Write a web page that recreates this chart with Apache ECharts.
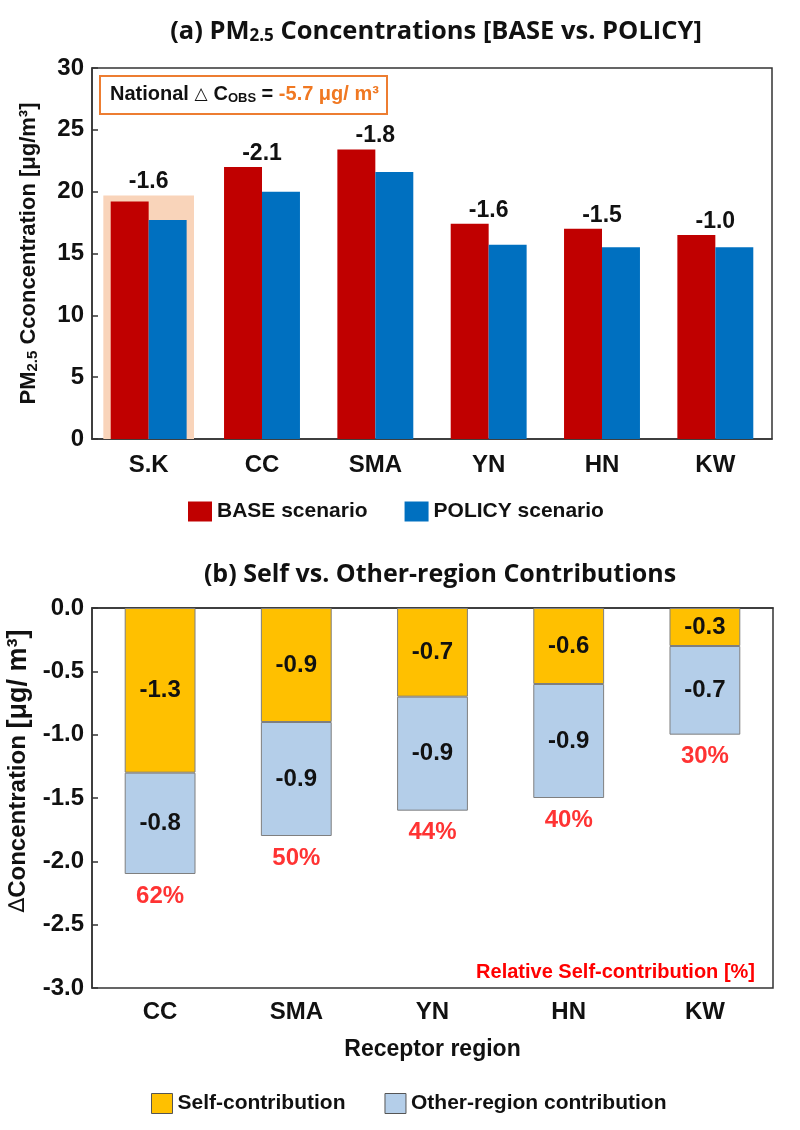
<!DOCTYPE html>
<html>
<head>
<meta charset="utf-8">
<script src="https://cdn.jsdelivr.net/npm/echarts@6/dist/echarts.min.js"></script>
<style>
  html, body { margin: 0; padding: 0; background: #fff; }
  #chart { width: 800px; height: 1130px; }
</style>
</head>
<body>
<div id="chart"></div>
<script>
  // (a) PM2.5 concentrations
  const regionsA = ['S.K', 'CC', 'SMA', 'YN', 'HN', 'KW'];
  const baseValues = [19.2, 22.0, 23.4, 17.4, 17.0, 16.5];
  const policyValues = [17.7, 20.0, 21.6, 15.7, 15.5, 15.5];
  const diffLabels = ['-1.6', '-2.1', '-1.8', '-1.6', '-1.5', '-1.0'];
  const highlightValues = [19.7, '-', '-', '-', '-', '-'];
  const ticksA = [0, 5, 10, 15, 20, 25, 30];

  // (b) self vs other-region
  const regionsB = ['CC', 'SMA', 'YN', 'HN', 'KW'];
  const selfValues = [-1.3, -0.9, -0.7, -0.6, -0.3];
  const otherValues = [-0.8, -0.9, -0.9, -0.9, -0.7];
  const selfShare = [62, 50, 44, 40, 30];
  const ticksB = [-3.0, -2.5, -2.0, -1.5, -1.0, -0.5, 0.0];

  const FONT = "'Liberation Sans', Arial, sans-serif";
  const TITLE_FONT = "'Open Sans', 'Noto Sans', sans-serif";

  // label anchor: top of the tallest thing in each group
  const labelAnchor = baseValues.map((v, i) =>
    highlightValues[i] === '-' ? v : Math.max(v, highlightValues[i]));
  const totals = selfValues.map((v, i) => +(v + otherValues[i]).toFixed(2));

  const chart = echarts.init(document.getElementById('chart'));

  const axisLine = { show: true, lineStyle: { color: '#333', width: 1.5 } };

  const option = {
    backgroundColor: '#fff',
    animation: false,
    title: [{
      text: '{t|(a) PM}{s|2.5}{t| Concentrations [BASE vs. POLICY]}',
      left: 431, top: 13, textAlign: 'center',
      textStyle: {
        rich: {
          t: { fontFamily: TITLE_FONT, fontSize: 25.5, fontWeight: 'bold', color: '#111' },
          s: { fontFamily: TITLE_FONT, fontSize: 17, fontWeight: 'bold', color: '#111', padding: [10, 0, 0, 0] }
        }
      }
    }, {
      text: '(b) Self vs. Other-region Contributions',
      left: 435, top: 557, textAlign: 'center',
      textStyle: { fontFamily: TITLE_FONT, fontSize: 25, fontWeight: 'bold', color: '#111' }
    }, {
      text: '{n|National }{d|△ }{n|C}{s|OBS}{n| = }{o|-5.7 μg/ m³}',
      left: 100, top: 75,
      borderColor: '#ED7D31', borderWidth: 2,
      padding: [9, 8, 9, 10],
      backgroundColor: '#fff',
      textStyle: {
        rich: {
          n: { fontFamily: FONT, fontSize: 20, fontWeight: 'bold', color: '#111' },
          d: { fontFamily: "'DejaVu Sans', sans-serif", fontSize: 17, color: '#111' },
          s: { fontFamily: FONT, fontSize: 13, fontWeight: 'bold', color: '#111', padding: [8, 0, 0, 0] },
          o: { fontFamily: FONT, fontSize: 20, fontWeight: 'bold', color: '#F07822' }
        }
      }
    }, {
      text: 'Relative Self-contribution [%]',
      right: 40, top: 957,
      textStyle: { fontFamily: FONT, fontSize: 20, fontWeight: 'bold', color: '#FF0000' }
    }],
    legend: [{
      data: ['BASE scenario', 'POLICY scenario'],
      left: 183, top: 496,
      itemWidth: 24, itemHeight: 20, itemGap: 37,
      icon: 'rect',
      textStyle: { fontFamily: FONT, fontSize: 21, fontWeight: 'bold', color: '#111' }
    }, {
      data: ['Self-contribution', 'Other-region contribution'],
      left: 146, top: 1088,
      itemWidth: 21, itemHeight: 20, itemGap: 39,
      icon: 'rect',
      itemStyle: { borderColor: '#555', borderWidth: 1 },
      textStyle: { fontFamily: FONT, fontSize: 21, fontWeight: 'bold', color: '#111' }
    }],
    grid: [
      { left: 92, right: 28, top: 68, height: 371, show: true, borderColor: '#333', borderWidth: 1.5, containLabel: false, outerBoundsMode: 'none' },
      { left: 92, right: 27, top: 608, height: 380, show: true, borderColor: '#333', borderWidth: 1.5, containLabel: false, outerBoundsMode: 'none' }
    ],
    xAxis: [{
      gridIndex: 0, type: 'category', data: regionsA,
      axisLine: axisLine, axisTick: { show: false },
      axisLabel: { fontFamily: FONT, fontSize: 24, fontWeight: 'bold', color: '#111', margin: 14 }
    }, {
      gridIndex: 0, type: 'category', data: regionsA, show: false
    }, {
      gridIndex: 1, type: 'category', data: regionsB,
      axisLine: axisLine, axisTick: { show: false },
      axisLabel: { fontFamily: FONT, fontSize: 24, fontWeight: 'bold', color: '#111', margin: 12 },
      name: 'Receptor region', nameLocation: 'middle', nameGap: 50,
      nameTextStyle: { fontFamily: FONT, fontSize: 23, fontWeight: 'bold', color: '#111' }
    }],
    yAxis: [{
      gridIndex: 0, type: 'value', min: ticksA[0], max: ticksA[ticksA.length - 1], interval: 5,
      axisLine: axisLine,
      axisTick: { show: true, inside: true, length: 6, lineStyle: { color: '#333', width: 1.5 } },
      splitLine: { show: false },
      axisLabel: { fontFamily: FONT, fontSize: 24, fontWeight: 'bold', color: '#111', margin: 8 },
      name: '{a|PM}{b|2.5}{a| Cconcentration [μg/m³]}',
      nameLocation: 'middle', nameRotate: 90, nameGap: 52,
      nameTextStyle: {
        rich: {
          a: { fontFamily: FONT, fontSize: 22, fontWeight: 'bold', color: '#111' },
          b: { fontFamily: FONT, fontSize: 15, fontWeight: 'bold', color: '#111', padding: [8, 0, 0, 0] }
        }
      }
    }, {
      gridIndex: 1, type: 'value', min: ticksB[0], max: ticksB[ticksB.length - 1], interval: 0.5,
      axisLine: axisLine,
      axisTick: { show: true, inside: true, length: 6, lineStyle: { color: '#333', width: 1.5 } },
      splitLine: { show: false },
      axisLabel: {
        fontFamily: FONT, fontSize: 24, fontWeight: 'bold', color: '#111', margin: 8,
        formatter: v => v.toFixed(1)
      },
      name: '{d|∆}{a|Concentration }{u|[μg/ m³]}',
      nameLocation: 'middle', nameRotate: 90, nameGap: 52,
      nameTextStyle: {
        padding: [0, 0, 0, 54],
        rich: {
          d: { fontFamily: "'DejaVu Sans', sans-serif", fontSize: 22, color: '#111' },
          a: { fontFamily: FONT, fontSize: 24, fontWeight: 'bold', color: '#111' },
          u: { fontFamily: FONT, fontSize: 27, fontWeight: 'bold', color: '#111' }
        }
      }
    }],
    series: [{
      name: 'highlight', type: 'bar', xAxisIndex: 1, yAxisIndex: 0,
      data: highlightValues, barWidth: '80%', barGap: '-100%', z: 1,
      itemStyle: { color: '#F9D4BA' }, silent: true
    }, {
      name: 'diff', type: 'bar', xAxisIndex: 1, yAxisIndex: 0,
      data: labelAnchor, barWidth: '80%', z: 5,
      itemStyle: { color: 'rgba(0,0,0,0)' }, silent: true,
      label: {
        show: true, position: 'top', distance: 2,
        fontFamily: FONT, fontSize: 23, fontWeight: 'bold', color: '#111',
        formatter: p => diffLabels[p.dataIndex]
      }
    }, {
      name: 'BASE scenario', type: 'bar', xAxisIndex: 0, yAxisIndex: 0,
      data: baseValues, barGap: 0, barCategoryGap: '33%', z: 3,
      itemStyle: { color: '#C00000' }
    }, {
      name: 'POLICY scenario', type: 'bar', xAxisIndex: 0, yAxisIndex: 0,
      data: policyValues, z: 3,
      itemStyle: { color: '#0070C0' }
    }, {
      name: 'Self-contribution', type: 'bar', xAxisIndex: 2, yAxisIndex: 1,
      stack: 'b', data: selfValues, barWidth: '52%',
      itemStyle: { color: '#FFC000', borderColor: '#7F7F7F', borderWidth: 1 },
      label: {
        show: true, position: 'inside',
        fontFamily: FONT, fontSize: 24, fontWeight: 'bold', color: '#111',
        formatter: p => p.value.toFixed(1)
      }
    }, {
      name: 'Other-region contribution', type: 'bar', xAxisIndex: 2, yAxisIndex: 1,
      stack: 'b', data: otherValues, barWidth: '52%',
      itemStyle: { color: '#B4CEE9', borderColor: '#7F7F7F', borderWidth: 1 },
      label: {
        show: true, position: 'inside',
        fontFamily: FONT, fontSize: 24, fontWeight: 'bold', color: '#111',
        formatter: p => p.value.toFixed(1)
      }
    }, {
      name: 'share', type: 'scatter', xAxisIndex: 2, yAxisIndex: 1,
      data: totals, symbolSize: 0, silent: true,
      label: {
        show: true, position: 'bottom', distance: 10,
        fontFamily: FONT, fontSize: 24, fontWeight: 'bold', color: '#FF0000',
        formatter: p => selfShare[p.dataIndex] + '%'
      }
    }]
  };

  chart.setOption(option);
</script>
</body>
</html>
